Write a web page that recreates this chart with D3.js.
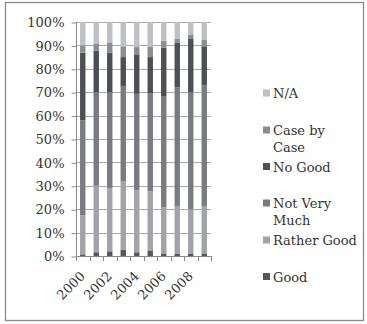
<!DOCTYPE html>
<html>
<head>
<meta charset="utf-8">
<script src="https://cdn.jsdelivr.net/npm/d3@7"></script>
<style>
  html, body { margin: 0; padding: 0; background: #fff; }
  svg { display: block; }
  text { font-family: "DejaVu Serif", serif; fill: #333; }
</style>
</head>
<body>
<svg id="chart" width="367" height="324"></svg>
<script>
// Survey answers by year, in percent of respondents
const years = ["2000","2001","2002","2003","2004","2005","2006","2007","2008","2009"];
const good        = [0.7, 1.6, 2.0, 2.7, 1.6, 2.4, 1.1, 0.9, 0.9, 1.1];
const ratherGood  = [16.7, 28.4, 27.0, 29.3, 26.5, 25.3, 19.6, 20.5, 19.1, 20.3];
const notVeryMuch = [40.6, 40.0, 41.0, 40.4, 41.2, 41.9, 47.4, 50.7, 50.0, 51.7];
const noGood      = [28.9, 17.7, 16.9, 12.6, 16.6, 15.4, 21.0, 19.0, 23.0, 16.5];
const caseByCase  = [3.1, 2.9, 4.4, 4.6, 3.4, 4.6, 2.9, 1.8, 1.7, 2.7];
const notAnswered = [10.0, 9.4, 8.7, 10.4, 10.7, 10.4, 8.0, 7.1, 5.3, 7.7];

const seriesNames = ["Good", "Rather Good", "Not Very Much", "No Good", "Case by Case", "N/A"];
const seriesValues = [good, ratherGood, notVeryMuch, noGood, caseByCase, notAnswered];
const yTicks = [0, 0.1, 0.2, 0.3, 0.4, 0.5, 0.6, 0.7, 0.8, 0.9, 1];
const xLabels = ["2000", "2002", "2004", "2006", "2008"];

const colors = ["#56575a", "#a2a3a6", "#7a7b7e", "#4e4f52", "#8c8d90", "#bfc0c3"];

const rows = years.map((y, i) => {
  const r = { year: y };
  seriesNames.forEach((s, k) => r[s] = seriesValues[k][i]);
  return r;
});

const svg = d3.select("#chart");

// chart frame
svg.append("rect")
  .attr("x", 5.5).attr("y", 2.5)
  .attr("width", 358).attr("height", 318)
  .attr("fill", "#fff")
  .attr("stroke", "#8a8a8a")
  .attr("stroke-width", 1.3);

const plot = { left: 76, right: 211, top: 22, bottom: 256 };

const x = d3.scaleBand()
  .domain(years)
  .range([plot.left, plot.right])
  .paddingInner(0.6)
  .paddingOuter(0.3);

const y = d3.scaleLinear().domain([0, 1]).range([plot.bottom, plot.top]);

const stack = d3.stack().keys(seriesNames).offset(d3.stackOffsetExpand);
const layers = stack(rows);

// horizontal gridlines
svg.append("g")
  .selectAll("line")
  .data(yTicks.slice(1))
  .join("line")
  .attr("x1", plot.left).attr("x2", plot.right)
  .attr("y1", d => Math.round(y(d)) + 0.5)
  .attr("y2", d => Math.round(y(d)) + 0.5)
  .attr("stroke", "#a9a9a9")
  .attr("stroke-width", 1);

// stacked bars
svg.append("g")
  .selectAll("g")
  .data(layers)
  .join("g")
  .attr("fill", (d, i) => colors[i])
  .selectAll("rect")
  .data(d => d)
  .join("rect")
  .attr("x", d => x(d.data.year))
  .attr("width", x.bandwidth())
  .attr("y", d => y(d[1]))
  .attr("height", d => y(d[0]) - y(d[1]));

// y axis
const yAxis = d3.axisLeft(y)
  .tickValues(yTicks)
  .tickFormat(d3.format(".0%"))
  .tickSize(5)
  .tickPadding(7);

const gy = svg.append("g")
  .attr("transform", `translate(${plot.left + 0.5},0.5)`)
  .call(yAxis);
gy.select(".domain").attr("stroke", "#8a8a8a").attr("d", `M0,${plot.top}V${plot.bottom}`);
gy.selectAll(".tick line").attr("stroke", "#8a8a8a");
gy.selectAll(".tick text")
  .attr("font-family", "DejaVu Serif, serif")
  .attr("font-size", 13)
  .attr("fill", "#333");

// x axis: tick marks between categories
const boundaries = d3.range(years.length + 1).map(i => plot.left + i * (plot.right - plot.left) / years.length);
const gx = svg.append("g");
gx.append("line")
  .attr("x1", plot.left).attr("x2", plot.right)
  .attr("y1", plot.bottom + 0.5).attr("y2", plot.bottom + 0.5)
  .attr("stroke", "#8a8a8a");
gx.selectAll("line.tick")
  .data(boundaries)
  .join("line")
  .attr("class", "tick")
  .attr("x1", d => Math.round(d) + 0.5).attr("x2", d => Math.round(d) + 0.5)
  .attr("y1", plot.bottom).attr("y2", plot.bottom + 5)
  .attr("stroke", "#8a8a8a");

gx.selectAll("text")
  .data(xLabels)
  .join("text")
  .attr("transform", d => `translate(${x(d) + x.bandwidth() / 2 + 3},${plot.bottom + 21}) rotate(-45)`)
  .attr("text-anchor", "end")
  .attr("font-size", 13)
  .text(d => d);

// legend, top entry is the last series
const legendItems = [
  { name: "N/A", lines: ["N/A"], y: 93 },
  { name: "Case by Case", lines: ["Case by", "Case"], y: 130 },
  { name: "No Good", lines: ["No Good"], y: 166.5 },
  { name: "Not Very Much", lines: ["Not Very", "Much"], y: 203 },
  { name: "Rather Good", lines: ["Rather Good"], y: 240 },
  { name: "Good", lines: ["Good"], y: 276.5 }
];

const legend = svg.append("g");
const li = legend.selectAll("g")
  .data(legendItems)
  .join("g")
  .attr("transform", d => `translate(263,${d.y})`);
li.append("rect")
  .attr("x", 0).attr("y", -3.5)
  .attr("width", 7).attr("height", 7)
  .attr("fill", d => colors[seriesNames.indexOf(d.name)]);
li.append("text")
  .attr("x", 10)
  .attr("y", 5)
  .attr("font-size", 13)
  .selectAll("tspan")
  .data(d => d.lines)
  .join("tspan")
  .attr("x", 10)
  .attr("dy", (d, i) => i === 0 ? 0 : 16.5)
  .text(d => d);
</script>
</body>
</html>
